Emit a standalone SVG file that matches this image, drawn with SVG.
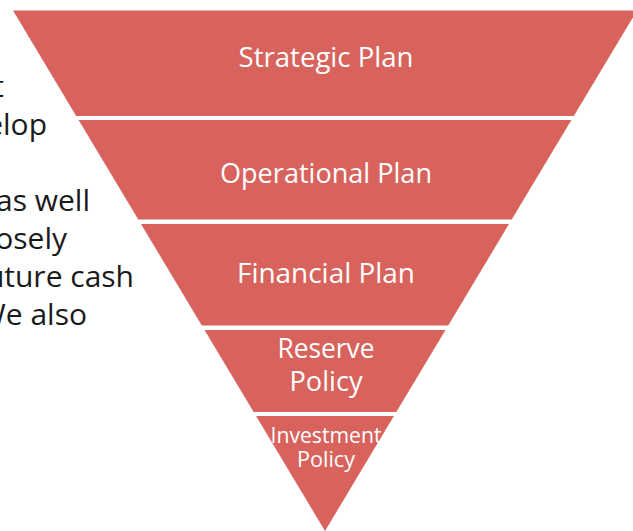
<svg xmlns="http://www.w3.org/2000/svg" width="633" height="531" viewBox="0 0 633 531">
  <style>
    .band { fill: #D8635D; }
    .label { font-family: "Open Sans", "Noto Sans", sans-serif; fill: #FFFFFF; text-anchor: middle; }
    .big { font-size: 28px; }
    .small { font-size: 21px; }
    .body { font-family: "Open Sans", "Noto Sans", sans-serif; font-size: 30px; fill: #1A1A1A; text-anchor: end; }
  </style>
  <rect width="633" height="531" fill="#FFFFFF"/>

  <!-- slide body text, cut at the left edge -->
  <g id="body-text">
    <text class="body" x="4" y="97">t</text>
    <text class="body" x="47" y="135">elop</text>
    <text class="body" x="90" y="211">as well</text>
    <text class="body" x="67" y="249">osely</text>
    <text class="body" x="134" y="287">uture cash</text>
    <text class="body" x="87" y="325">We also</text>
  </g>

  <!-- inverted pyramid, one band per level -->
  <g id="strategic-plan">
    <polygon class="band" points="13,10.5 637,10.5 573.8,116 76.2,116"/>
    <text class="label big" x="326" y="67" textLength="175" lengthAdjust="spacingAndGlyphs">Strategic Plan</text>
  </g>
  <g id="operational-plan">
    <polygon class="band" points="78.6,120 571.4,120 511.7,219.5 138.3,219.5"/>
    <text class="label big" x="326" y="183" textLength="212" lengthAdjust="spacingAndGlyphs">Operational Plan</text>
  </g>
  <g id="financial-plan">
    <polygon class="band" points="141,224 509,224 448.2,325.5 201.8,325.5"/>
    <text class="label big" x="326" y="283" textLength="178" lengthAdjust="spacingAndGlyphs">Financial Plan</text>
  </g>
  <g id="reserve-policy">
    <polygon class="band" points="204.5,330 445.5,330 396.3,412 253.7,412"/>
    <text class="label big" x="326" y="358" textLength="97" lengthAdjust="spacingAndGlyphs">Reserve</text>
    <text class="label big" x="326" y="391" textLength="73" lengthAdjust="spacingAndGlyphs">Policy</text>
  </g>
  <g id="investment-policy">
    <polygon class="band" points="256.1,416 393.9,416 325,531"/>
    <text class="label small" x="326" y="443" textLength="111" lengthAdjust="spacingAndGlyphs">Investment</text>
    <text class="label small" x="326" y="467" textLength="58" lengthAdjust="spacingAndGlyphs">Policy</text>
  </g>

  <!-- no connectors in this figure -->
  <g id="connectors"/>
</svg>
